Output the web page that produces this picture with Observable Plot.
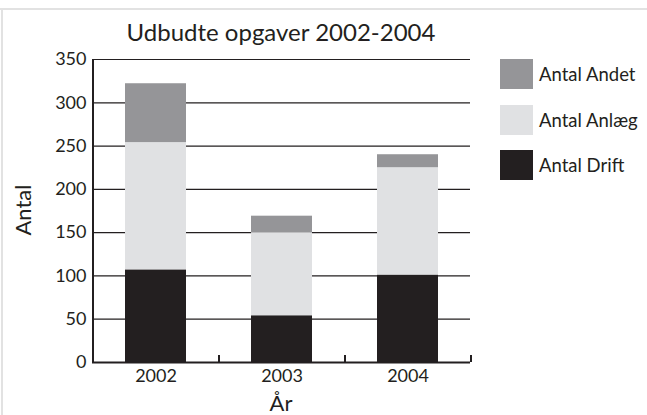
<!DOCTYPE html>
<html>
<head>
<meta charset="utf-8">
<script src="https://cdn.jsdelivr.net/npm/d3@7"></script>
<script src="https://cdn.jsdelivr.net/npm/@observablehq/plot@0.6"></script>
<style>
  html, body { margin: 0; padding: 0; background: #fff; }
  #wrap { position: relative; width: 647px; height: 415px; font-family: Lato, sans-serif; color: #231f20; overflow: hidden; }
  #wrap svg { position: absolute; left: 0; top: 0; }
  .frameTop { position: absolute; left: 0; top: 8px; width: 647px; height: 2px; background: #e2e2e2; }
  .frameLeft { position: absolute; left: 1px; top: 8px; width: 2px; height: 407px; background: #e2e2e2; }
  .title { position: absolute; left: 92px; width: 378px; top: 18px; text-align: center; font-size: 24px; line-height: 28px; white-space: nowrap; }
  .ylab { position: absolute; left: 22px; top: 210px; font-size: 22px; transform: translate(-50%, -50%) rotate(-90deg); white-space: nowrap; }
  .xlab { position: absolute; left: 281px; top: 402px; font-size: 22px; transform: translate(-50%, -50%); white-space: nowrap; }
  .legend { position: absolute; left: 500px; top: 59px; }
  .item { display: flex; align-items: center; height: 30px; margin-bottom: 15.5px; }
  .sw { width: 33px; height: 30px; margin-right: 6px; }
  .item span { font-size: 18.5px; white-space: nowrap; }
</style>
</head>
<body>
<div id="wrap">
  <div class="frameTop"></div>
  <div class="frameLeft"></div>
</div>
<script>
const years = ["2002", "2003", "2004"];
const series = ["Antal Drift", "Antal Anlæg", "Antal Andet"];
const drift = [107, 54, 101];
const anlaeg = [147, 96, 124];
const andet = [68, 19, 15];
const colors = ["#231f20", "#e0e1e3", "#959598"];
const yTicks = [0, 50, 100, 150, 200, 250, 300, 350];
const legendOrder = ["Antal Andet", "Antal Anlæg", "Antal Drift"];
const titleText = "Udbudte opgaver 2002-2004";
const yLabel = "Antal";
const xLabel = "År";

const values = [drift, anlaeg, andet];
const data = [];
years.forEach((yr, i) => {
  series.forEach((s, j) => data.push({year: yr, series: s, value: values[j][i]}));
});

const plot = Plot.plot({
  width: 647,
  height: 415,
  marginLeft: 92,
  marginRight: 177,
  marginTop: 59,
  marginBottom: 53,
  style: {fontFamily: "Lato, sans-serif", fontSize: "18px", color: "#231f20", background: "transparent"},
  x: {domain: years, paddingInner: 0.516, paddingOuter: 0.258, label: null},
  y: {domain: [0, 350], label: null},
  color: {domain: series, range: colors},
  marks: [
    Plot.ruleY(yTicks.filter(d => d > 0), {stroke: "#231f20", strokeWidth: 1.2}),
    Plot.barY(data, {x: "year", y: "value", fill: "series"}),
    Plot.axisY(yTicks, {tickSize: 0, tickPadding: 6, fontSize: 18, fill: "#231f20"}),
    Plot.axisX({tickSize: 0, tickPadding: 7, fontSize: 18, fill: "#231f20"}),
    Plot.ruleX(years, {x: d => d, dx: 63, y1: 0, y2: 8, stroke: "#231f20", strokeWidth: 2}),
    Plot.ruleX([years[0]], {x: d => d, dx: -63, y1: 0, y2: 350, stroke: "#231f20", strokeWidth: 2}),
    Plot.ruleY([0], {stroke: "#231f20", strokeWidth: 2.2})
  ]
});

const wrap = document.getElementById("wrap");
wrap.appendChild(plot);

const t = document.createElement("div");
t.className = "title"; t.textContent = titleText; wrap.appendChild(t);
const yl = document.createElement("div");
yl.className = "ylab"; yl.textContent = yLabel; wrap.appendChild(yl);
const xl = document.createElement("div");
xl.className = "xlab"; xl.textContent = xLabel; wrap.appendChild(xl);

const lg = document.createElement("div");
lg.className = "legend";
legendOrder.forEach(name => {
  const it = document.createElement("div");
  it.className = "item";
  const sw = document.createElement("div");
  sw.className = "sw";
  sw.style.background = colors[series.indexOf(name)];
  const sp = document.createElement("span");
  sp.textContent = name;
  it.appendChild(sw); it.appendChild(sp);
  lg.appendChild(it);
});
wrap.appendChild(lg);
</script>
</body>
</html>
